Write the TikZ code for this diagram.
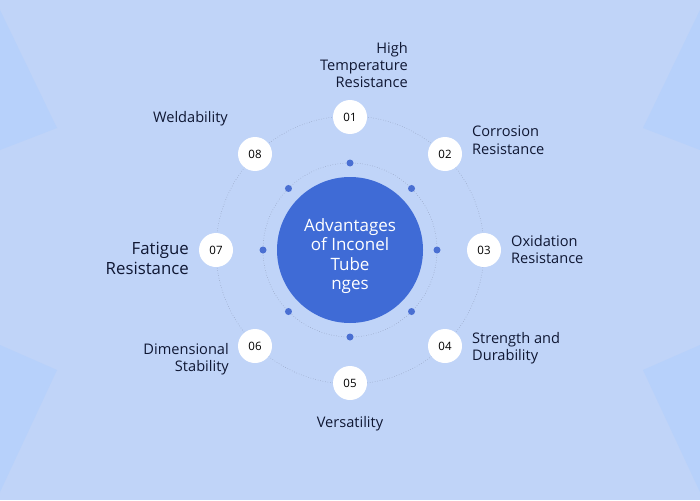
\documentclass[tikz,border=0pt]{standalone}
\usepackage{fontspec}
\setmainfont{Open Sans}
\definecolor{bg}{HTML}{C0D4F8}
\definecolor{tri}{HTML}{B7D1FB}
\definecolor{hub}{HTML}{3F6BD6}
\definecolor{dotc}{HTML}{4A6FD2}
\definecolor{ink}{HTML}{0F1733}
\definecolor{ringc}{HTML}{8E9BB8}
\tikzset{
  numbox/.style={circle,fill=white,minimum size=34pt,inner sep=0pt,font=\fontsize{11.5}{13}\selectfont,text=black},
  lbl/.style={font=\fontsize{14.6}{17.2}\selectfont,text=ink,inner sep=0pt},
  lblbig/.style={font=\fontsize{16.8}{19.5}\selectfont,text=ink,inner sep=0pt},
  ringline/.style={draw=ringc,line width=0.5pt,dotted},
  smalldot/.style={circle,fill=dotc,minimum size=7pt,inner sep=0pt}
}
\begin{document}
\begin{tikzpicture}[x=1pt,y=-1pt]
\useasboundingbox (0,0) rectangle (700,500);
\fill[bg] (0,0) rectangle (700,500);
% faint background triangles
\fill[tri] (0,10) -- (57,128) -- (0,150) -- cycle;
\fill[tri] (0,345) -- (57,370) -- (0,492) -- cycle;
\fill[tri] (700,10) -- (643,128) -- (700,150) -- cycle;
\fill[tri] (700,345) -- (643,370) -- (700,492) -- cycle;
% rings
\draw[ringline] (350,250) circle[radius=134];
\draw[ringline] (350,250) circle[radius=87];
% hub
\node[circle,fill=hub,minimum size=146pt,inner sep=0pt] (hub) at (350,250) {};
\node[text=white,align=center,inner sep=0pt,
  font=\fontsize{17}{19.3}\selectfont] (hubtext) at (350,256) {Advantages\\of Inconel\\Tube\\nges};
% inner dots
\foreach \a [count=\i] in {90,45,0,-45,-90,-135,180,135}
  \node[smalldot] (d\i) at ({350+87*cos(\a)},{250-87*sin(\a)}) {};
% numbered nodes
\node[numbox] (n1) at (350,117) {01};
\node[numbox] (n2) at (445,154) {02};
\node[numbox] (n3) at (484,250) {03};
\node[numbox] (n4) at (445,346) {04};
\node[numbox] (n5) at (350,383) {05};
\node[numbox] (n6) at (255,346) {06};
\node[numbox] (n7) at (216,250) {07};
\node[numbox] (n8) at (255,154) {08};
% labels
\node[lbl,align=right,anchor=north east] (t1) at (408,42) {High\\Temperature\\Resistance};
\node[lbl,align=left,anchor=north west] (t2) at (472,126) {Corrosion\\Resistance};
\node[lbl,align=left,anchor=north west] (t3) at (511,235) {Oxidation\\Resistance};
\node[lbl,align=left,anchor=north west] (t4) at (472,332) {Strength and\\Durability};
\node[lbl,align=center,anchor=north] (t5) at (350,416) {Versatility};
\node[lbl,align=right,anchor=north east] (t6) at (229,343) {Dimensional\\Stability};
\node[lblbig,align=right,anchor=north east] (t7) at (189,242) {Fatigue\\Resistance};
\node[lbl,align=right,anchor=north east] (t8) at (228,111) {Weldability};
\end{tikzpicture}
\end{document}
